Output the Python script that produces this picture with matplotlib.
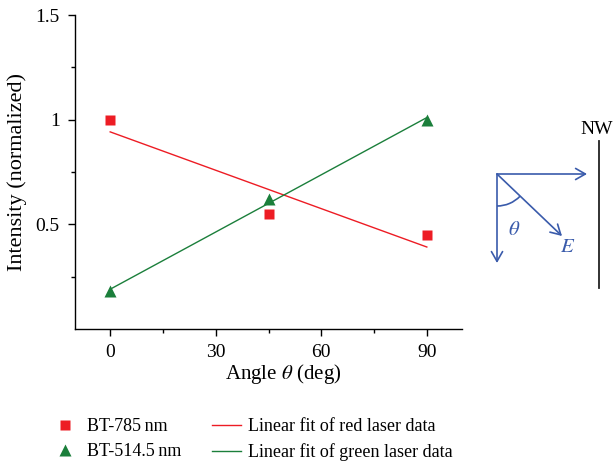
import numpy as np
import matplotlib
matplotlib.use("Agg")
import matplotlib.pyplot as plt
from matplotlib.lines import Line2D
from matplotlib.patches import FancyArrowPatch, Arc

plt.rcParams['font.family'] = ['Liberation Serif', 'DejaVu Serif']
plt.rcParams['mathtext.fontset'] = 'stix'

angles = [0, 45, 90]
red_vals = [1.0, 0.55, 0.45]
green_vals = [0.18, 0.62, 1.0]
xticks = [0, 30, 60, 90]
yticks = [0.5, 1.0, 1.5]
ytick_labels = ["0.5", "1", "1.5"]

RED = '#ed1c24'
GREEN = '#1b7f3b'
BLUE = '#3a5bab'

W, H = 616, 463
fig = plt.figure(figsize=(W / 100, H / 100), dpi=100)
# axes box in pixels: left 75, right 462, top 15, bottom 329
ax = fig.add_axes([75 / W, (H - 329) / H, (462 - 75) / W, (329 - 15) / H])

x = np.array(angles, dtype=float)
xf = np.array([0.0, 90.0])
pr = np.polyfit(x, red_vals, 1)
pg = np.polyfit(x, green_vals, 1)

ax.plot(xf, np.polyval(pr, xf), '-', color=RED, lw=1.0)
ax.plot(xf, np.polyval(pg, xf), '-', color=GREEN, lw=1.0)
ax.plot(angles, red_vals, 's', color=RED, ms=6.5, mec='none')
ax.plot(angles, green_vals, '^', color=GREEN, ms=9, mec='none')

ax.set_xlim(-10, 100)
ax.set_ylim(0, 1.5)
ax.set_xticks(xticks)
ax.set_xticks([15, 45, 75], minor=True)
ax.set_yticks(yticks)
ax.set_yticklabels(ytick_labels)
ax.set_yticks([0.25, 0.75, 1.25], minor=True)
for s in ['top', 'right']:
    ax.spines[s].set_visible(False)
for s in ['left', 'bottom']:
    ax.spines[s].set_linewidth(1.0)
ax.tick_params(which='major', direction='out', length=5, width=1, labelsize=14, pad=6)
ax.tick_params(which='minor', direction='out', length=3, width=1)
ax.set_xlabel(r'Angle $\theta$ (deg)', fontsize=15)
ax.xaxis.set_label_coords(0.537, -0.105)
ax.set_ylabel('Intensity (normalized)', fontsize=16)
ax.yaxis.set_label_coords(-0.125, 0.5)

handles = [
    Line2D([], [], ls='none', marker='s', color=RED, ms=6.5, mec='none'),
    Line2D([], [], ls='none', marker='^', color=GREEN, ms=9, mec='none'),
    Line2D([], [], color=RED, lw=1.0),
    Line2D([], [], color=GREEN, lw=1.0),
]
labels = ['BT-785\u2009nm', 'BT-514.5\u2009nm',
          'Linear fit of red laser data', 'Linear fit of green laser data']
fig.legend(handles, labels, ncol=2, frameon=False, fontsize=13,
           loc='lower left', bbox_to_anchor=(40 / W, -9 / H),
           handlelength=1.6, handletextpad=0.4, columnspacing=1.7,
           labelspacing=0.45, borderaxespad=0.2)

# polarization sketch (figure pixel coordinates)
def P(px, py):
    return (px, H - py)

ox, oy = 497, 174
for end in [(587, 174), (497, 263), (562, 236)]:
    arr = FancyArrowPatch(P(ox, oy), P(*end), transform=None,
                          arrowstyle='->,head_length=7,head_width=4',
                          color=BLUE, lw=1.2, shrinkA=0, shrinkB=0)
    fig.add_artist(arr)
arc = Arc(P(ox, oy), 64, 64, angle=0, theta1=270, theta2=316,
          transform=None, color=BLUE, lw=1.2)
fig.add_artist(arc)
fig.text(514 / W, 1 - 230 / H, r'$\theta$', color=BLUE, fontsize=15,
         ha='center', va='center')
fig.text(568 / W, 1 - 247 / H, r'$E$', color=BLUE, fontsize=15,
         ha='center', va='center')
fig.add_artist(Line2D([599, 599], [H - 141, H - 288], transform=None,
                      color='#222222', lw=1.3))
fig.text(597 / W, 1 - 129 / H, 'NW', fontsize=14, ha='center', va='center')

fig.savefig('out.png', dpi=100)
